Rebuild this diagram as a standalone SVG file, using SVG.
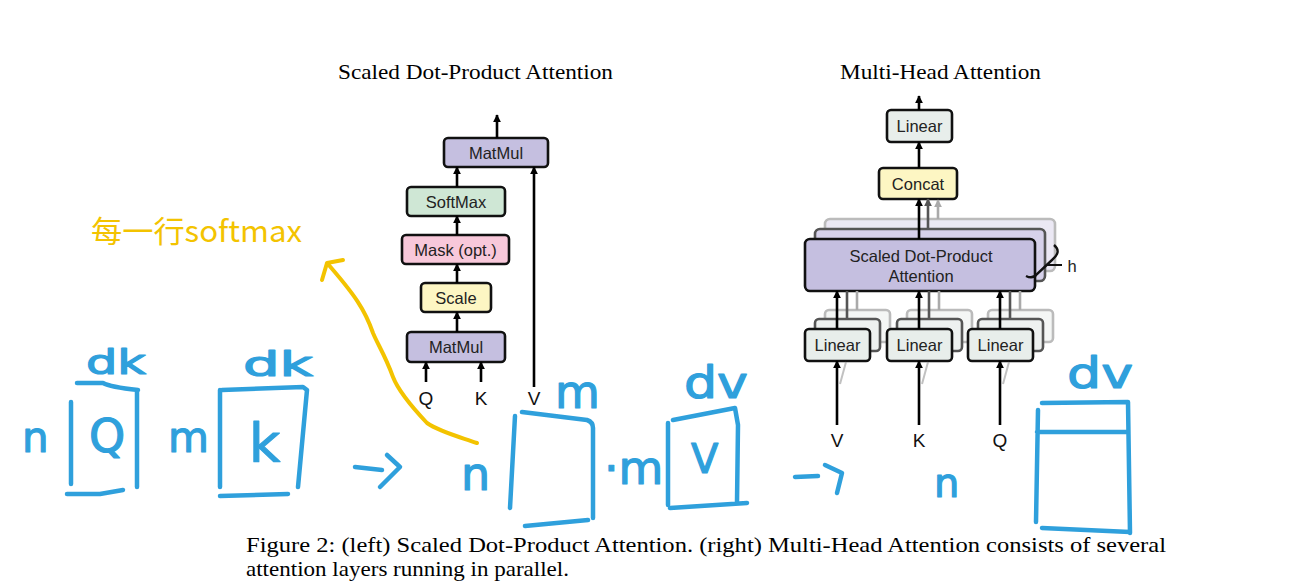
<svg xmlns="http://www.w3.org/2000/svg" width="1298" height="587" viewBox="0 0 1298 587">
<defs>
<style>
.box{stroke:#111;stroke-width:2.6}
.lbl{font-family:"Liberation Sans",Arial,sans-serif;font-size:16.5px;fill:#222;text-anchor:middle}
.io{font-family:"Liberation Sans",Arial,sans-serif;font-size:19px;fill:#111;text-anchor:middle}
.serif{font-family:"Liberation Serif","Times New Roman",serif;fill:#000}
.conn{stroke:#000;stroke-width:2.6;fill:none}
.g1{stroke:#555;stroke-width:2.6;fill:none}
.g2{stroke:#aaa;stroke-width:2.6;fill:none}
.hand{stroke:#2fa0dc;stroke-width:4.5;fill:none;stroke-linecap:round;stroke-linejoin:round}
.htxt{font-family:"DejaVu Sans",sans-serif;fill:#2fa0dc;stroke:#2fa0dc;stroke-width:1.2;stroke-linejoin:round}
.purple{fill:#c5bfe0}
.lin{fill:#e8eeeb}
.yel{fill:#fdf6c3}
</style>
<marker id="ah" viewBox="0 0 10 10" refX="9" refY="5" markerWidth="8" markerHeight="8" orient="auto" markerUnits="userSpaceOnUse"><path d="M0,0 L10,5 L0,10 z" fill="#000"/></marker>
<marker id="ahg1" viewBox="0 0 10 10" refX="9" refY="5" markerWidth="8" markerHeight="8" orient="auto" markerUnits="userSpaceOnUse"><path d="M0,0 L10,5 L0,10 z" fill="#555"/></marker>
<marker id="ahg2" viewBox="0 0 10 10" refX="9" refY="5" markerWidth="8" markerHeight="8" orient="auto" markerUnits="userSpaceOnUse"><path d="M0,0 L10,5 L0,10 z" fill="#aaa"/></marker>
</defs>
<rect width="1298" height="587" fill="#fff"/>

<!-- titles -->
<text class="serif" x="338" y="79" font-size="21" textLength="275" lengthAdjust="spacingAndGlyphs">Scaled Dot-Product Attention</text>
<text class="serif" x="840" y="79" font-size="21" textLength="201" lengthAdjust="spacingAndGlyphs">Multi-Head Attention</text>

<!-- left: scaled dot-product attention -->
<g id="matmul-top"><rect class="box purple" x="444" y="138" width="104" height="29" rx="4"/><text class="lbl" x="496" y="159">MatMul</text></g>
<g id="softmax"><rect class="box" fill="#cfe7d5" x="407" y="187" width="98" height="29" rx="4"/><text class="lbl" x="456" y="208">SoftMax</text></g>
<g id="mask"><rect class="box" fill="#f8c8da" x="402" y="235" width="107" height="29" rx="4"/><text class="lbl" x="455.5" y="256">Mask (opt.)</text></g>
<g id="scale"><rect class="box yel" x="421" y="283" width="70" height="29" rx="4"/><text class="lbl" x="456" y="304">Scale</text></g>
<g id="matmul-bottom"><rect class="box purple" x="407" y="332" width="98" height="30" rx="4"/><text class="lbl" x="456" y="353">MatMul</text></g>
<g id="left-inputs">
<text class="io" x="426" y="405">Q</text>
<text class="io" x="481" y="405">K</text>
<text class="io" x="534" y="405">V</text>
</g>

<!-- right: multi-head attention -->
<g id="linear-top"><rect class="box lin" x="887" y="110" width="65" height="32" rx="4"/><text class="lbl" x="919.5" y="132">Linear</text></g>
<g id="concat"><rect class="box yel" x="879" y="168" width="78" height="31" rx="4"/><text class="lbl" x="918" y="190">Concat</text></g>
<g id="attention">
<rect x="825" y="219" width="230" height="52" rx="5" fill="#ebe8f4" stroke="#bbb" stroke-width="2.6"/>
<rect x="815" y="229" width="230" height="52" rx="5" fill="#d6d1ea" stroke="#555" stroke-width="2.6"/>
<rect class="box purple" x="805" y="239" width="230" height="52" rx="5"/>
<text class="lbl" x="921" y="262" font-size="17">Scaled Dot-Product</text>
<text class="lbl" x="921" y="282" font-size="17">Attention</text>
<path d="M1054,245 C1060,250 1058,255 1052,260 L1037,274 C1034,278 1030,278 1026,276" stroke="#111" stroke-width="2.4" fill="none"/>
<path d="M1047,265 L1062,265" stroke="#111" stroke-width="2"/>
<text class="lbl" x="1072" y="272" font-size="17">h</text>
</g>
<g id="linear-v">
<rect x="825" y="310" width="65" height="32" rx="4" fill="#f4f6f5" stroke="#bbb" stroke-width="2.6"/>
<rect x="815" y="319" width="65" height="32" rx="4" fill="#eef1f0" stroke="#555" stroke-width="2.6"/>
<rect class="box lin" x="805" y="329" width="65" height="32" rx="4"/><text class="lbl" x="837.5" y="351">Linear</text>
</g>
<g id="linear-k">
<rect x="907" y="310" width="65" height="32" rx="4" fill="#f4f6f5" stroke="#bbb" stroke-width="2.6"/>
<rect x="897" y="319" width="65" height="32" rx="4" fill="#eef1f0" stroke="#555" stroke-width="2.6"/>
<rect class="box lin" x="887" y="329" width="65" height="32" rx="4"/><text class="lbl" x="919.5" y="351">Linear</text>
</g>
<g id="linear-q">
<rect x="988" y="310" width="65" height="32" rx="4" fill="#f4f6f5" stroke="#bbb" stroke-width="2.6"/>
<rect x="978" y="319" width="65" height="32" rx="4" fill="#eef1f0" stroke="#555" stroke-width="2.6"/>
<rect class="box lin" x="968" y="329" width="65" height="32" rx="4"/><text class="lbl" x="1000.5" y="351">Linear</text>
</g>
<g id="right-inputs">
<text class="io" x="837" y="447">V</text>
<text class="io" x="919" y="447">K</text>
<text class="io" x="1000" y="447">Q</text>
</g>

<!-- connectors -->
<g id="connectors">
<path class="conn" marker-end="url(#ah)" d="M497,138 L497,115"/>
<path class="conn" marker-end="url(#ah)" d="M457,187 L457,167"/>
<path class="conn" marker-end="url(#ah)" d="M457,235 L457,216"/>
<path class="conn" marker-end="url(#ah)" d="M457,283 L457,264"/>
<path class="conn" marker-end="url(#ah)" d="M457,332 L457,312"/>
<path class="conn" marker-end="url(#ah)" d="M426,382 L426,362"/>
<path class="conn" marker-end="url(#ah)" d="M481,382 L481,362"/>
<path class="conn" marker-end="url(#ah)" d="M534,387 L534,167"/>

<path class="conn" marker-end="url(#ah)" d="M919,110 L919,96"/>
<path class="conn" marker-end="url(#ah)" d="M919,168 L919,142"/>
<path class="g2" marker-end="url(#ahg2)" d="M938,219 L938,200"/>
<path class="g1" marker-end="url(#ahg1)" d="M928,229 L928,199"/>
<path class="conn" marker-end="url(#ah)" d="M919,239 L919,199"/>

<path class="g2" d="M857,310 L857,291"/>
<path class="g1" d="M847,319 L847,291"/>
<path class="conn" marker-end="url(#ah)" d="M837,329 L837,291"/>
<path class="g2" d="M939,310 L939,291"/>
<path class="g1" d="M929,319 L929,291"/>
<path class="conn" marker-end="url(#ah)" d="M919,329 L919,291"/>
<path class="g2" d="M1020,310 L1020,291"/>
<path class="g1" d="M1010,319 L1010,291"/>
<path class="conn" marker-end="url(#ah)" d="M1000,329 L1000,291"/>

<path d="M846,362 L840,384" stroke="#999" stroke-width="2" opacity="0.6"/>
<path d="M928,362 L922,384" stroke="#999" stroke-width="2" opacity="0.6"/>
<path d="M1009,362 L1003,384" stroke="#999" stroke-width="2" opacity="0.6"/>
<path class="conn" marker-end="url(#ah)" d="M837,425 L837,361"/>
<path class="conn" marker-end="url(#ah)" d="M919,425 L919,361"/>
<path class="conn" marker-end="url(#ah)" d="M1000,425 L1000,361"/>
</g>

<!-- yellow annotation -->
<g id="yellow-note">
<text x="91" y="242" font-family="'Noto Sans CJK SC','Noto Sans',sans-serif" font-size="30" fill="#f3c300" textLength="211" lengthAdjust="spacingAndGlyphs">每一行softmax</text>
<path d="M477,443 C460,437 440,432 427,423 C410,405 398,390 393,377 C385,355 378,345 373,333 C365,310 355,295 327,263 M322,280 L327,263 L343,260" stroke="#f3c300" stroke-width="4" fill="none" stroke-linecap="round" stroke-linejoin="round"/>
</g>

<!-- blue handwriting -->
<g id="hand-q">
<text class="htxt" x="86" y="374" font-size="34" textLength="60" lengthAdjust="spacingAndGlyphs">dk</text>
<text class="htxt" x="22" y="452" font-size="42">n</text>
<text class="htxt" x="89" y="452" font-size="46">Q</text>
<path class="hand" d="M71,402 L71,484 M77,383 L103,383 Q110,387 138,390 M137,390 L137,487 M67,494 L100,494 L123,490"/>
</g>
<g id="hand-k">
<text class="htxt" x="243" y="376" font-size="34" textLength="70" lengthAdjust="spacingAndGlyphs">dk</text>
<text class="htxt" x="168" y="452" font-size="42">m</text>
<text class="htxt" x="249" y="462" font-size="54">k</text>
<path class="hand" d="M220,390 L220,487 M222,390 L303,387 L307,390 L298,487 M220,496 L288,494"/>
</g>
<g id="hand-arrow1"><path class="hand" d="M355,467 L382,470 M387,455 L400,467 L380,487"/></g>
<g id="hand-scores">
<text class="htxt" x="555" y="408" font-size="46">m</text>
<text class="htxt" x="461" y="490" font-size="46">n</text>
<path class="hand" d="M515,416 L510,508 M522,412 L587,420 Q593,422 593,428 L593,518 M525,526 L588,520"/>
</g>
<g id="hand-v">
<text class="htxt" x="604" y="484" font-size="46">·m</text>
<text class="htxt" x="684" y="398" font-size="44" textLength="64" lengthAdjust="spacingAndGlyphs">dv</text>
<text class="htxt" x="691" y="473" font-size="40">V</text>
<path class="hand" d="M668,423 L668,505 M673,420 L735,408 L738,425 L737,502 M670,508 L747,503"/>
</g>
<g id="hand-arrow2"><path class="hand" d="M795,477 L818,476 M825,465 L842,473 L837,493"/></g>
<g id="hand-out">
<text class="htxt" x="934" y="497" font-size="40">n</text>
<text class="htxt" x="1067" y="388" font-size="42" textLength="66" lengthAdjust="spacingAndGlyphs">dv</text>
<path class="hand" d="M1042,403 L1128,402 L1130,533 M1038,410 L1036,522 M1037,432 L1128,432 M1042,528 L1130,532"/>
</g>

<!-- caption -->
<text class="serif" x="246" y="552" font-size="21" textLength="920" lengthAdjust="spacingAndGlyphs">Figure 2: (left) Scaled Dot-Product Attention.  (right) Multi-Head Attention consists of several</text>
<text class="serif" x="246" y="576" font-size="21" textLength="323" lengthAdjust="spacingAndGlyphs">attention layers running in parallel.</text>
</svg>
